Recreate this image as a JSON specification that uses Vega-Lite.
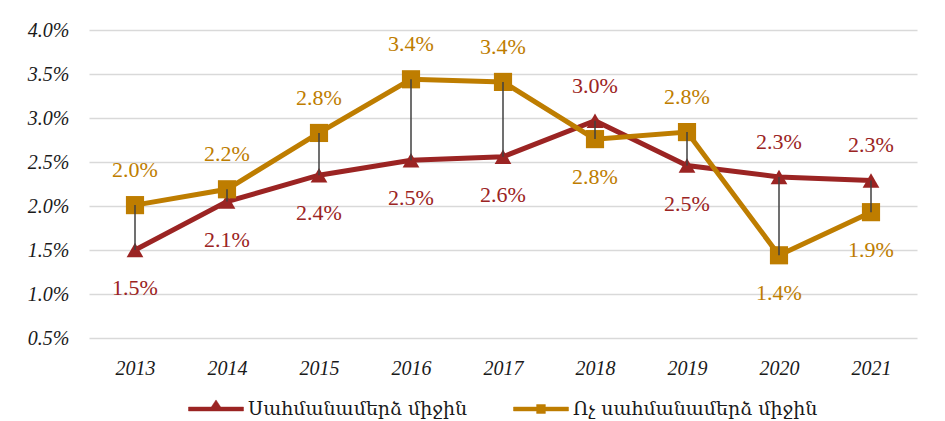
{
  "$schema": "https://vega.github.io/schema/vega-lite/v6.json",
  "width": 945,
  "height": 421,
  "autosize": {"type": "fit", "contains": "padding"},
  "padding": {"left": 27, "top": 20, "right": 28, "bottom": 2},
  "background": "white",
  "config": {"view": {"stroke": null}, "legend": {"layout": {"bottom": {"anchor": "middle"}}}},
  "data": {
    "values": [
      {"year": "2013", "series": "Սահմանամերձ միջին", "value": 0.0150},
      {"year": "2014", "series": "Սահմանամերձ միջին", "value": 0.0205},
      {"year": "2015", "series": "Սահմանամերձ միջին", "value": 0.0235},
      {"year": "2016", "series": "Սահմանամերձ միջին", "value": 0.0252},
      {"year": "2017", "series": "Սահմանամերձ միջին", "value": 0.0256},
      {"year": "2018", "series": "Սահմանամերձ միջին", "value": 0.0297},
      {"year": "2019", "series": "Սահմանամերձ միջին", "value": 0.0246},
      {"year": "2020", "series": "Սահմանամերձ միջին", "value": 0.0233},
      {"year": "2021", "series": "Սահմանամերձ միջին", "value": 0.0229},
      {"year": "2013", "series": "Ոչ սահմանամերձ միջին", "value": 0.0201},
      {"year": "2014", "series": "Ոչ սահմանամերձ միջին", "value": 0.0219},
      {"year": "2015", "series": "Ոչ սահմանամերձ միջին", "value": 0.0283},
      {"year": "2016", "series": "Ոչ սահմանամերձ միջին", "value": 0.0344},
      {"year": "2017", "series": "Ոչ սահմանամերձ միջին", "value": 0.0341},
      {"year": "2018", "series": "Ոչ սահմանամերձ միջին", "value": 0.0276},
      {"year": "2019", "series": "Ոչ սահմանամերձ միջին", "value": 0.0284},
      {"year": "2020", "series": "Ոչ սահմանամերձ միջին", "value": 0.0144},
      {"year": "2021", "series": "Ոչ սահմանամերձ միջին", "value": 0.0193}
    ]
  },
  "encoding": {
    "x": {
      "field": "year", "type": "ordinal",
      "scale": {"type": "point", "padding": 0.5},
      "axis": {
        "title": null, "labelAngle": 0, "domain": false, "ticks": false,
        "labelFont": "Liberation Serif", "labelFontStyle": "italic", "labelFontSize": 20,
        "labelColor": "#1a1a1a", "labelPadding": 20, "grid": false
      }
    },
    "y": {
      "field": "value", "type": "quantitative",
      "scale": {"domain": [0.005, 0.04], "nice": false, "zero": false},
      "axis": {
        "title": null, "format": ".1%", "domain": false, "ticks": false,
        "values": [0.005, 0.01, 0.015, 0.02, 0.025, 0.03, 0.035, 0.04],
        "labelFont": "Liberation Serif", "labelFontStyle": "italic", "labelFontSize": 20,
        "labelColor": "#1a1a1a", "labelPadding": 20,
        "gridColor": "#d9d9d9", "gridWidth": 1.5
      }
    }
  },
  "layer": [
    {
      "mark": {"type": "line", "strokeWidth": 5},
      "encoding": {
        "color": {
          "field": "series", "type": "nominal",
          "scale": {"domain": ["Սահմանամերձ միջին", "Ոչ սահմանամերձ միջին"], "range": ["#9B2423", "#BE7D00"]},
          "legend": {
            "title": null, "orient": "bottom", "direction": "horizontal",
            "labelFont": "DejaVu Serif", "labelFontSize": 19, "labelColor": "#1a1a1a", "labelLimit": 500,
            "symbolSize": 3025, "labelOffset": 4, "columnPadding": 44, "offset": 3,
            "encode": {
              "symbols": {
                "update": {
                  "shape": {"signal": "datum.value === 'Սահմանամերձ միջին' ? 'M-1,-0.07L-0.17,-0.07L0,-0.33L0.17,-0.07L1,-0.07L1,0.07L-1,0.07Z' : 'M-1,-0.07L-0.16,-0.07L-0.16,-0.16L0.16,-0.16L0.16,-0.07L1,-0.07L1,0.07L0.16,0.07L0.16,0.16L-0.16,0.16L-0.16,0.07L-1,0.07Z'"},
                  "fill": {"signal": "scale('color', datum.value)"},
                  "stroke": {"signal": "scale('color', datum.value)"},
                  "strokeWidth": {"value": 0.5},
                  "fillOpacity": {"value": 1}
                }
              }
            }
          }
        }
      }
    },
    {
      "transform": [{"filter": "datum.series === 'Սահմանամերձ միջին'"}],
      "mark": {"type": "point", "shape": "triangle-up", "filled": true, "size": 280, "opacity": 1, "color": "#9B2423"}
    },
    {
      "transform": [{"filter": "datum.series === 'Ոչ սահմանամերձ միջին'"}],
      "mark": {"type": "point", "shape": "square", "filled": true, "size": 330, "opacity": 1, "color": "#BE7D00"}
    },
    {
      "mark": {"type": "rule", "color": "#404040", "strokeWidth": 1.5},
      "encoding": {
        "y": {"aggregate": "min", "field": "value", "type": "quantitative"},
        "y2": {"aggregate": "max", "field": "value"}
      }
    },
    {
      "transform": [
        {"joinaggregate": [{"op": "max", "field": "value", "as": "maxv"}], "groupby": ["year"]},
        {"filter": "datum.value === datum.maxv"}
      ],
      "mark": {"type": "text", "dy": -35, "font": "Liberation Serif", "fontSize": 22, "baseline": "middle"},
      "encoding": {
        "text": {"field": "value", "format": ".1%"},
        "color": {"field": "series", "type": "nominal", "legend": null}
      }
    },
    {
      "transform": [
        {"joinaggregate": [{"op": "max", "field": "value", "as": "maxv"}], "groupby": ["year"]},
        {"filter": "datum.value !== datum.maxv"}
      ],
      "mark": {"type": "text", "dy": 38, "font": "Liberation Serif", "fontSize": 22, "baseline": "middle"},
      "encoding": {
        "text": {"field": "value", "format": ".1%"},
        "color": {"field": "series", "type": "nominal", "legend": null}
      }
    }
  ]
}
